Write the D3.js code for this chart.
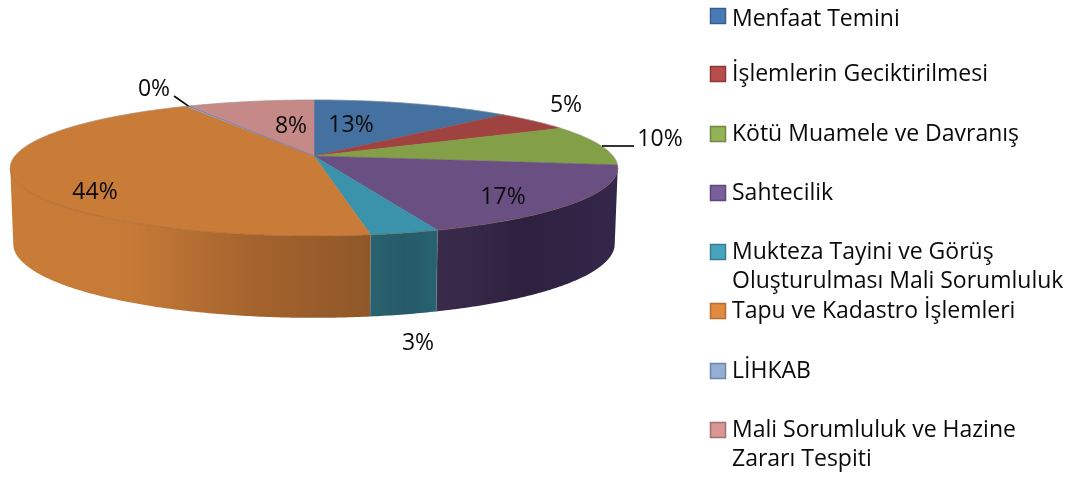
<!DOCTYPE html>
<html><head><meta charset="utf-8">
<script src="https://cdn.jsdelivr.net/npm/d3@7/dist/d3.min.js"></script>
<style>html,body{margin:0;padding:0;background:#fff}svg{display:block;filter:blur(0.35px)}text{font-family:"Open Sans",sans-serif;fill:#0a0a0a}</style>
</head><body><svg id="c" width="1079" height="480"></svg>
<script>
const categories = ["Menfaat Temini","İşlemlerin Geciktirilmesi","Kötü Muamele ve Davranış","Sahtecilik","Mukteza Tayini ve Görüş|Oluşturulması Mali Sorumluluk","Tapu ve Kadastro İşlemleri","LİHKAB","Mali Sorumluluk ve Hazine|Zararı Tespiti"];
const values = [12.6,4.9,9.6,17.3,3.1,44.3,0.3,7.9];
const labels = ["13%","5%","10%","17%","3%","44%","0%","8%"];
const topColors = ["#44719f","#a04340","#839f48","#6a4f82","#3b92ab","#c97b38","#8fa7d0","#c58a88"];
const swatchFill = ["#4a7ab5","#b84d4a","#93b255","#7a5f9a","#47a3bc","#e28b3f","#95aed6","#d99694"];
const swatchStroke = ["#385d8a","#8c3836","#71893f","#5c4776","#357d91","#b66d31","#6f84a8","#a06f6e"];
const wallStops = {3:["#3a2b4a","#2e2140","#33264a"],4:["#2a6270","#265a68","#286270"],5:["#c87c38","#c67a37","#a5632d","#8f5728"]};

// layout
const P = {cx:314, cy:156, R:299, S:65.9, k:0.1765, R2:296, S2:71.5, d:75};
const labelAt = [[351,124],[566,104],[660,138],[503,196],[418,342],[95,191],[154,88],[291,125]];
const legendY = [16,74,134,193,252,311,371,430];
const legendTextY = [17.5,73,133,192,251,310,370,429];
const LEG = {x:710.5, size:15, tx:732, fs:23, lh:29, lblFs:23};

const svg = d3.select("#c");
const defs = svg.append("defs");
const pie = d3.pie().sort(null).startAngle(0).endAngle(2*Math.PI);
const arcs = pie(values);

const proj = a => { const u=Math.sin(a), v=Math.cos(a), w=1+P.k*v; return [P.cx+P.R*u/w, P.cy-P.S*v/w]; };
const projB = a => { const u=Math.sin(a), v=Math.cos(a), w=1+P.k*v; return [P.cx+P.R2*u/w, P.cy+P.d-P.S2*v/w]; };
const line = d3.line();
const samples = (a0,a1) => { const n=Math.max(2,Math.ceil((a1-a0)/0.01)); return d3.range(n+1).map(i=>a0+(a1-a0)*i/n); };

// Visible wall range: side silhouette of the projected disc
const aL = Math.acos(-P.k), aR = 2*Math.PI-aL;

const pieG = svg.append("g");
// walls
arcs.forEach((d,i)=>{
  const a0=Math.max(d.startAngle,aL), a1=Math.min(d.endAngle,aR);
  if(a1<=a0) return;
  const s=samples(a0,a1);
  const pts=s.map(proj).concat(s.slice().reverse().map(projB));
  const stops=wallStops[i]||[topColors[i],topColors[i]];
  const xs=pts.map(p=>p[0]);
  const g=defs.append("linearGradient").attr("id","w"+i).attr("gradientUnits","userSpaceOnUse")
    .attr("x1",d3.min(xs)).attr("x2",d3.max(xs)).attr("y1",0).attr("y2",0);
  stops.forEach((c,j)=>g.append("stop").attr("offset",j/(stops.length-1)).attr("stop-color",c));
  pieG.append("path").attr("d",line(pts)+"Z").attr("fill",`url(#w${i})`);
});
// wall edge lights between slices
arcs.forEach((d,i)=>{
  if(d.startAngle>aL&&d.startAngle<aR){
    const a=proj(d.startAngle),b=projB(d.startAngle);
    pieG.append("line").attr("x1",a[0]).attr("y1",a[1]).attr("x2",b[0]).attr("y2",b[1])
      .attr("stroke","#6d8a90").attr("stroke-opacity",.45).attr("stroke-width",1);
  }
});
// top face
arcs.forEach((d,i)=>{
  const pts=[[P.cx,P.cy]].concat(samples(d.startAngle,d.endAngle).map(proj));
  pieG.append("path").attr("d",line(pts)+"Z").attr("fill",topColors[i])
    .attr("stroke",topColors[i]).attr("stroke-width",.5);
});
// rim edge on front
pieG.append("path").attr("d",line(samples(aL,aR).map(proj))).attr("fill","none")
  .attr("stroke","#7a4f28").attr("stroke-opacity",.35).attr("stroke-width",1);
// pale outline at rear
pieG.append("path").attr("d",line(samples(aR,aL+2*Math.PI).map(proj))).attr("fill","none")
  .attr("stroke","#999").attr("stroke-opacity",.5).attr("stroke-width",.8);
// 0% sliver boundary tone
{
  const d=arcs[6];
  pieG.append("path").attr("d",line([[P.cx,P.cy],proj((d.startAngle+d.endAngle)/2)])).attr("fill","none")
    .attr("stroke","#8f7f98").attr("stroke-width",1.1);
}

// leaders
const leaderAnchors=[[6,[174,96]],[2,[634,146]]];
leaderAnchors.forEach(([i,end])=>{
  const start = i===6 ? proj((arcs[6].startAngle+arcs[6].endAngle)/2) : [602,end[1]];
  svg.append("line").attr("x1",start[0]).attr("y1",start[1]).attr("x2",end[0]).attr("y2",end[1])
    .attr("stroke","#000").attr("stroke-width",1.6);
});

// data labels
svg.append("g").selectAll("text").data(labels).join("text")
  .attr("x",(d,i)=>labelAt[i][0]).attr("y",(d,i)=>labelAt[i][1])
  .attr("text-anchor","middle").attr("dy","0.35em").attr("font-size",LEG.lblFs).text(d=>d);

// legend
const leg=svg.append("g");
categories.forEach((c,i)=>{
  const y=legendY[i];
  leg.append("rect").attr("x",LEG.x).attr("y",y-LEG.size/2).attr("width",LEG.size).attr("height",LEG.size)
    .attr("fill",swatchFill[i]).attr("stroke",swatchStroke[i]).attr("stroke-width",1.5);
  c.split("|").forEach((t,j)=>{
    leg.append("text").attr("x",LEG.tx).attr("y",legendTextY[i]+j*LEG.lh).attr("dy","0.35em").attr("font-size",LEG.fs).text(t);
  });
});
</script></body></html>
